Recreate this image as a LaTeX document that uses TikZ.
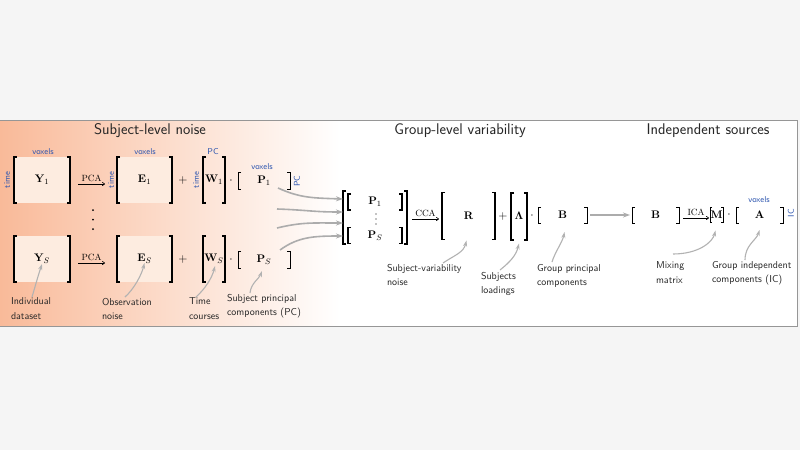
\documentclass[tikz,border=0pt]{standalone}
\usepackage{amsmath}
\usetikzlibrary{arrows.meta}
\definecolor{voxblue}{RGB}{45,85,175}
\definecolor{mfill}{RGB}{253,236,224}
\definecolor{orangeL}{RGB}{249,186,153}
\definecolor{orangeM}{RGB}{252,224,205}
\definecolor{bordercol}{RGB}{150,150,150}
\newcommand\mybrk[3][]{%
  \draw[#1] ([xshift=#3]#2.north west) -- (#2.north west) -- (#2.south west) -- ([xshift=#3]#2.south west);
  \draw[#1] ([xshift=-#3]#2.north east) -- (#2.north east) -- (#2.south east) -- ([xshift=-#3]#2.south east);}
\tikzset{
  every node/.style={inner sep=0pt, outer sep=0pt},
  title/.style={font=\sffamily\fontsize{15.5}{18}\selectfont, text=black!85},
  mat/.style={font=\fontsize{11}{13}\selectfont},
  ax/.style={text=voxblue, font=\sffamily\fontsize{8.5}{9}\selectfont},
  ann/.style={font=\sffamily\fontsize{10}{14.5}\selectfont, align=left, anchor=north west, text=black!85},
  op/.style={font=\fontsize{13}{15}\selectfont},
  thickbrk/.style={line width=2pt},
  thinbrk/.style={line width=1pt},
  midbrk/.style={line width=1.3pt},
  txtarrow/.style={line width=0.6pt, -{To[length=3pt,width=4pt]}},
  lbl/.style={font=\fontsize{9}{10}\selectfont},
  parrow/.style={draw=gray!65, line width=1.6pt, -{Stealth[length=7pt,width=5pt]}},
  gparrow/.style={draw=gray!65, line width=1.4pt, -{Stealth[length=7pt,width=5pt]}},
  annarrow/.style={draw=gray!60, line width=1.1pt, -{Stealth[length=6pt,width=4pt]}}
}
\begin{document}
\begin{tikzpicture}[x=1pt,y=-1pt]
\useasboundingbox (0,0) rectangle (800,450);
\fill[gray!8] (0,0) rectangle (800,450);
\fill[white] (0,120) rectangle (797,326);
\shade[left color=orangeL, middle color=orangeM, right color=white] (0,120) rectangle (340,326);
\draw[bordercol, line width=1pt] (0,120) -- (797,120) -- (797,326) -- (0,326);

% titles
\node[title] (t1) at (150,131) {Subject-level noise};
\node[title] (t2) at (460,131) {Group-level variability};
\node[title] (t3) at (708,131) {Independent sources};

% top row
\node[mat, minimum width=56pt, minimum height=46pt, fill=mfill] (y1) at (42,180) {$\mathbf{Y}_1$};
\node[mat, minimum width=55pt, minimum height=46pt, fill=mfill] (e1) at (144.5,180) {$\mathbf{E}_1$};
\node[mat, minimum width=22pt, minimum height=46pt] (w1) at (214,180) {$\mathbf{W}_1$};
\node[mat, minimum width=52pt, minimum height=17pt] (p1) at (264,181) {$\mathbf{P}_1$};
\mybrk[thickbrk]{y1}{3pt}
\mybrk[thickbrk]{e1}{3pt}
\mybrk[thickbrk]{w1}{3pt}
\mybrk[thinbrk]{p1}{3pt}
\node[ax] (y1v) at (43,152) {voxels};
\node[ax, rotate=90] (y1t) at (7,180) {time};
\node[ax] (e1v) at (145,152) {voxels};
\node[ax, rotate=90] (e1t) at (111,180) {time};
\node[ax] (w1v) at (213,152) {PC};
\node[ax, rotate=90] (w1t) at (196,180) {time};
\node[ax] (p1v) at (262,167) {voxels};
\node[ax, rotate=90] (p1t) at (297,181) {PC};
\node[op] (plus1) at (183,180) {$+$};
\node[op] (dot1) at (231,181) {$\cdot$};
\draw[txtarrow] ([xshift=8pt,yshift=-4pt]y1.east) -- ([xshift=-12pt,yshift=-4pt]e1.west) node[midway, above=2pt, lbl] (pca1) {PCA};

\fill (93,210) circle (1) (93,219.5) circle (1) (93,229) circle (1);

% bottom row
\node[mat, minimum width=56pt, minimum height=46pt, fill=mfill] (ys) at (42,259) {$\mathbf{Y}_S$};
\node[mat, minimum width=55pt, minimum height=46pt, fill=mfill] (es) at (144.5,259) {$\mathbf{E}_S$};
\node[mat, minimum width=22pt, minimum height=46pt] (ws) at (214,259) {$\mathbf{W}_S$};
\node[mat, minimum width=52pt, minimum height=17pt] (ps) at (264,260) {$\mathbf{P}_S$};
\mybrk[thickbrk]{ys}{3pt}
\mybrk[thickbrk]{es}{3pt}
\mybrk[thickbrk]{ws}{3pt}
\mybrk[thinbrk]{ps}{3pt}
\node[op] (plus2) at (183,259) {$+$};
\node[op] (dot2) at (231,260) {$\cdot$};
\draw[txtarrow] ([xshift=8pt,yshift=-4pt]ys.east) -- ([xshift=-12pt,yshift=-4pt]es.west) node[midway, above=2pt, lbl] (pca2) {PCA};

% stacked P
\node[minimum width=64pt, minimum height=53pt] (pst) at (375,217.5) {};
\node[mat, minimum width=54pt, minimum height=16pt] (ptop) at (375,202) {$\mathbf{P}_1$};
\node[mat, minimum width=54pt, minimum height=16pt] (pbot) at (375,235.5) {$\mathbf{P}_S$};
\fill (376,214) circle (0.6) (376,219) circle (0.6) (376,224) circle (0.6);
\mybrk[midbrk]{pst}{3pt}
\mybrk[midbrk]{ptop}{3pt}
\mybrk[midbrk]{pbot}{3pt}

% curved arrows
\coordinate (s1) at (278,188);
\coordinate (s2) at (277,209);
\coordinate (s3) at (277,228);
\coordinate (s4) at (280,250);
\draw[parrow] (s1) .. controls +(22,10) and +(-30,-1) .. ([yshift=18.5pt]pst.west);
\draw[parrow] (s2) .. controls +(30,1) and +(-30,0) .. ([yshift=5.5pt]pst.west);
\draw[parrow] (s3) .. controls +(25,-6) and +(-30,0) .. ([yshift=-5.5pt]pst.west);
\draw[parrow] (s4) .. controls +(18,-13) and +(-30,0) .. ([yshift=-18.5pt]pst.west);

% group level
\node[mat, minimum width=53pt, minimum height=47pt] (r) at (468.5,216) {$\mathbf{R}$};
\mybrk[midbrk]{r}{3pt}
\draw[txtarrow] ([xshift=5pt,yshift=-1.5pt]pst.east) -- ([xshift=-3pt,yshift=-3pt]r.west) node[midway, above=2pt, lbl] (cca) {CCA};
\node[op] (plus3) at (503,216) {$+$};
\node[mat, minimum width=16pt, minimum height=47pt] (lam) at (519,216) {$\mathbf{\Lambda}$};
\mybrk[thickbrk]{lam}{3pt}
\node[op] (dot3) at (532,216) {$\cdot$};
\node[mat, minimum width=49pt, minimum height=16pt] (b1) at (562.5,215) {$\mathbf{B}$};
\mybrk[thinbrk]{b1}{3pt}

% independent sources
\node[mat, minimum width=47pt, minimum height=16pt] (b2) at (655.5,215) {$\mathbf{B}$};
\mybrk[thinbrk]{b2}{3pt}
\draw[gparrow] ([xshift=3pt]b1.east) -- ([xshift=-2pt]b2.west);
\node[mat, minimum width=13pt, minimum height=15pt] (m) at (716.5,215) {$\mathbf{M}$};
\mybrk[thinbrk]{m}{2pt}
\draw[txtarrow] ([xshift=4pt,yshift=-3pt]b2.east) -- ([xshift=-1pt,yshift=-3pt]m.west) node[midway, above=2pt, lbl] (ica) {ICA};
\node[op] (dot4) at (729,215) {$\cdot$};
\node[mat, minimum width=47pt, minimum height=16pt] (a) at (759.5,215) {$\mathbf{A}$};
\mybrk[thinbrk]{a}{3pt}
\node[ax] (av) at (759,200) {voxels};
\node[ax, rotate=90] (at) at (791,213) {IC};

% annotations
\node[ann] (l1) at (11,298) {Individual\\dataset};
\node[ann] (l2) at (102,298) {Observation\\noise};
\node[ann] (l3) at (189,298) {Time\\courses};
\node[ann] (l4) at (227,294) {Subject principal\\components (PC)};
\node[ann] (l5) at (387,264) {Subject-variability\\noise};
\node[ann] (l6) at (481,272) {Subjects\\loadings};
\node[ann] (l7) at (537,264) {Group principal\\components};
\node[ann] (l8) at (656,262) {Mixing\\matrix};
\node[ann] (l9) at (712,261) {Group independent\\components (IC)};

\coordinate (c1) at (32,297);
\coordinate (c2) at (125,297);
\coordinate (c3) at (196,297);
\coordinate (c4) at (250,293);
\coordinate (c5) at (443,263);
\coordinate (c6) at (500,270);
\coordinate (c7) at (552,262);
\coordinate (c8) at (673,254);
\coordinate (c9) at (745,260);
\draw[annarrow] (c1) .. controls +(3,-10) and +(-4,12) .. ([yshift=-5pt]ys.center);
\draw[annarrow] (c2) .. controls +(9,-8) and +(-3,12) .. ([yshift=-4pt]es.center);
\draw[annarrow] (c3) .. controls +(9,-8) and +(-3,12) .. ([xshift=1pt,yshift=-7pt]ws.center);
\draw[annarrow] (c4) .. controls +(1,-10) and +(-3,8) .. ([xshift=-2pt,yshift=-11pt]ps.center);
\draw[annarrow] (c5) .. controls +(12,-8) and +(-3,12) .. ([xshift=-2pt,yshift=-1pt]r.south);
\draw[annarrow] (c6) .. controls +(10,-8) and +(-3,12) .. ([yshift=-4pt]lam.south);
\draw[annarrow] (c7) .. controls +(3,-10) and +(-2,10) .. ([xshift=2pt,yshift=-9pt]b1.south);
\draw[annarrow] (c8) .. controls +(25,0) and +(-3,12) .. ([xshift=-1pt,yshift=-8pt]m.south);
\draw[annarrow] (c9) .. controls +(0,-15) and +(-3,10) .. ([yshift=-7pt]a.south);
\end{tikzpicture}
\end{document}
